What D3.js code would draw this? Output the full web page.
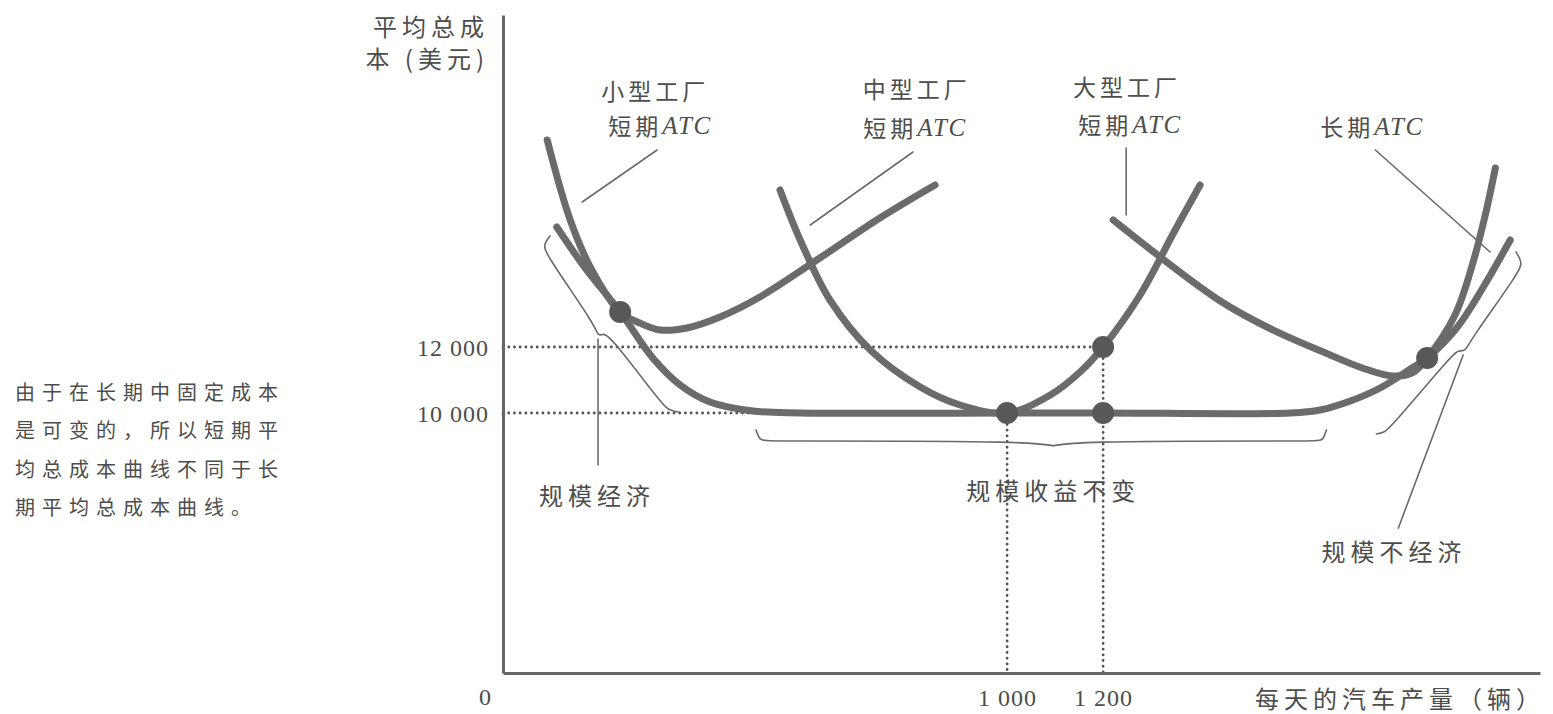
<!DOCTYPE html>
<html><head><meta charset="utf-8">
<script src="https://cdn.jsdelivr.net/npm/d3@7/dist/d3.min.js"></script>
<style>
body{margin:0;background:#fff}
svg{display:block}
text{font-family:"Noto Sans CJK SC","Noto Sans",sans-serif;fill:#4d4d4d}
.num{font-family:"Liberation Serif","DejaVu Serif",serif}
.it{font-family:"Liberation Serif","DejaVu Serif",serif;font-style:italic}
</style>
</head><body>
<svg id="chart" width="1553" height="714"></svg>
<script>
// ---------- data (quantity of cars per day, dollars) ----------
const xTickValues = [1000, 1200];
const xTickLabels = ["1 000", "1 200"];
const yTickValues = [10000, 12000];
const yTickLabels = ["10 000", "12 000"];

const smallPlantATC = [[42,18273],[90,15848],[135,14333],[194,13061],[235,12727],[277,12515],[333,12576],[402,12909],[485,13515],[610,14697],[735,15909],[850,16909]];
const mediumPlantATC = [[527,16758],[569,15242],[631,13424],[715,11909],[819,10788],[902,10242],[1000,10000],[1090,10545],[1152,11242],[1200,12000],[1277,13576],[1350,15545],[1402,16909]];
const largePlantATC = [[1221,15848],[1444,13394],[1558,12485],[1673,11758],[1740,11364],[1802,11121],[1844,11212],[1875,11667],[1933,12970],[1969,14485],[1996,16000],[2017,17424]];
const longRunATC = [[62,15636],[121,14394],[194,13061],[262,11667],[319,10848],[381,10333],[471,10060],[569,10000],[1000,10000],[1200,10000],[1590,10000],[1652,10091],[1715,10364],[1777,10758],[1840,11333],[1875,11667],[1938,12606],[1992,13818],[2048,15242]];
const tangencyPoints = [[194,13061],[1000,10000],[1200,12000],[1200,10000],[1875,11667]];

// annotation geometry (data units)
const leftBrace = [[48,15364],[35,15121],[37,14848],[142,12667],[148,12303],[158,12424],[175,12303],[281,10273],[294,10091],[315,10030]];
const bottomBrace = [[477,9485],[485,9152],[502,9152],[1079,9152],[1096,8939],[1113,9152],[1642,9152],[1658,9152],[1665,9485]];
const rightBrace = [[2060,14879],[2073,14576],[2067,14273],[1965,12212],[1954,11848],[1940,11909],[1927,11758],[1798,9545],[1783,9394],[1769,9364]];
const leaders = [
  [[271,17970],[115,16394]],
  [[804,17909],[590,15697]],
  [[1248,18030],[1248,16000]],
  [[1767,17970],[2006,14879]],
  [[148,12242],[148,8424]],
  [[1950,11758],[1815,6515]]
];
const curveLabels = [
  {lines:[["小型工厂",""],["短期","ATC"]], x:[267,277], y:[19788,18727]},
  {lines:[["中型工厂",""],["短期","ATC"]], x:[812,808], y:[19848,18667]},
  {lines:[["大型工厂",""],["短期","ATC"]], x:[1250,1256], y:[19909,18758]},
  {lines:[["长期","ATC"]], x:[1760], y:[18697]}
];
const regionLabels = [
  {text:"规模经济", x:146, y:7545},
  {text:"规模收益不变", x:1096, y:7667},
  {text:"规模不经济", x:1806, y:5848}
];
const yTitle = ["平均总成", "本 (美元)"];
const xTitle = "每天的汽车产量（辆）";
const note = ["由于在长期中固定成本", "是可变的，所以短期平", "均总成本曲线不同于长", "期平均总成本曲线。"];

// ---------- chart ----------
const svg = d3.select("#chart");
const x = d3.scaleLinear().domain([-50, 2110]).range([503, 1540]);
const y = d3.scaleLinear().domain([2121, 22060]).range([673, 15]);
const gray = "#666";

// guide dotted lines
const dotted = g => g.attr("stroke", "#555").attr("stroke-width", 2.8)
  .attr("stroke-linecap", "round").attr("stroke-dasharray", "0.1,5.6").attr("fill", "none");
const guides = [
  [[x.domain()[0], 12000], [1200, 12000]],
  [[x.domain()[0], 10000], [1000, 10000]],
  [[1000, 10000], [1000, y.domain()[0]]],
  [[1200, 12000], [1200, y.domain()[0]]]
];
const lin = d3.line().x(d => x(d[0])).y(d => y(d[1]));
svg.append("g").selectAll("path").data(guides).join("path").attr("d", lin).call(dotted);

// axes
const yAxis = d3.axisLeft(y).tickValues(yTickValues).tickFormat((d,i) => yTickLabels[i]).tickSize(0).tickSizeOuter(0).tickPadding(14);
const xAxis = d3.axisBottom(x).tickValues(xTickValues).tickFormat((d,i) => xTickLabels[i]).tickSize(0).tickSizeOuter(0).tickPadding(16);
const gy = svg.append("g").attr("transform", `translate(${x.range()[0]},0)`).call(yAxis);
const gx = svg.append("g").attr("transform", `translate(0,${y.range()[0]})`).call(xAxis);
[gy, gx].forEach(g => {
  g.select(".domain").attr("stroke", gray).attr("stroke-width", 3);
  g.selectAll("text").attr("class", "num").attr("font-size", 24).attr("letter-spacing", 1).attr("fill", "#555");
});
gy.selectAll("text").attr("dy", "0.35em");
gx.selectAll("text").attr("dy", "0.71em");

// thin annotation lines
const thin = g => g.attr("stroke", "#6a6a6a").attr("stroke-width", 1.6).attr("fill", "none")
  .attr("stroke-linejoin", "round").attr("stroke-linecap", "round");
svg.append("g").selectAll("path").data([leftBrace, bottomBrace, rightBrace]).join("path")
  .attr("d", d3.line().x(d => x(d[0])).y(d => y(d[1])).curve(d3.curveBasis)).call(thin);
svg.append("g").selectAll("path").data(leaders).join("path").attr("d", lin).call(thin);

// cost curves
const smooth = d3.line().x(d => x(d[0])).y(d => y(d[1])).curve(d3.curveCatmullRom.alpha(0.5));
svg.append("g").selectAll("path").data([longRunATC, smallPlantATC, mediumPlantATC, largePlantATC]).join("path")
  .attr("d", smooth).attr("fill", "none").attr("stroke", "#6b6b6b").attr("stroke-width", 7)
  .attr("stroke-linecap", "round").attr("stroke-linejoin", "round");

// points
svg.append("g").selectAll("circle").data(tangencyPoints).join("circle")
  .attr("cx", d => x(d[0])).attr("cy", d => y(d[1])).attr("r", 11).attr("fill", "#585858");

// curve labels
curveLabels.forEach(lb => {
  lb.lines.forEach((ln, i) => {
    const t = svg.append("text").attr("x", x(lb.x[i])).attr("y", y(lb.y[i]))
      .attr("text-anchor", "middle").attr("dominant-baseline", "central")
      .attr("font-size", 23).attr("letter-spacing", 4);
    t.append("tspan").text(ln[0]);
    if (ln[1]) t.append("tspan").attr("class", "it").attr("font-size", 25).attr("letter-spacing", 1.5).text(ln[1]);
  });
});
svg.append("g").selectAll("text").data(regionLabels).join("text")
  .attr("x", d => x(d.x)).attr("y", d => y(d.y)).attr("text-anchor", "middle")
  .attr("dominant-baseline", "central").attr("font-size", 24).attr("letter-spacing", 5).text(d => d.text);

// axis titles
svg.append("g").selectAll("text").data(yTitle).join("text")
  .attr("x", x.range()[0] - 14).attr("y", (d,i) => 25 + i*32).attr("text-anchor", "end")
  .attr("dominant-baseline", "central").attr("font-size", 24).attr("letter-spacing", 5).text(d => d);
svg.append("text").attr("x", 1545).attr("y", y.range()[0] + 24).attr("text-anchor", "end")
  .attr("dominant-baseline", "central").attr("font-size", 24).attr("letter-spacing", 5).text(xTitle);
svg.append("text").attr("class", "num").attr("x", x.range()[0] - 18).attr("y", y.range()[0] + 24)
  .attr("text-anchor", "middle").attr("dominant-baseline", "central").attr("font-size", 24).attr("fill", "#555").text("0");

// side note
svg.append("g").selectAll("text").data(note).join("text")
  .attr("x", 15).attr("y", (d,i) => 391 + i*38.5).attr("dominant-baseline", "central")
  .attr("font-size", 20).attr("letter-spacing", 7).attr("fill", "#666").text(d => d);
</script>
</body></html>
